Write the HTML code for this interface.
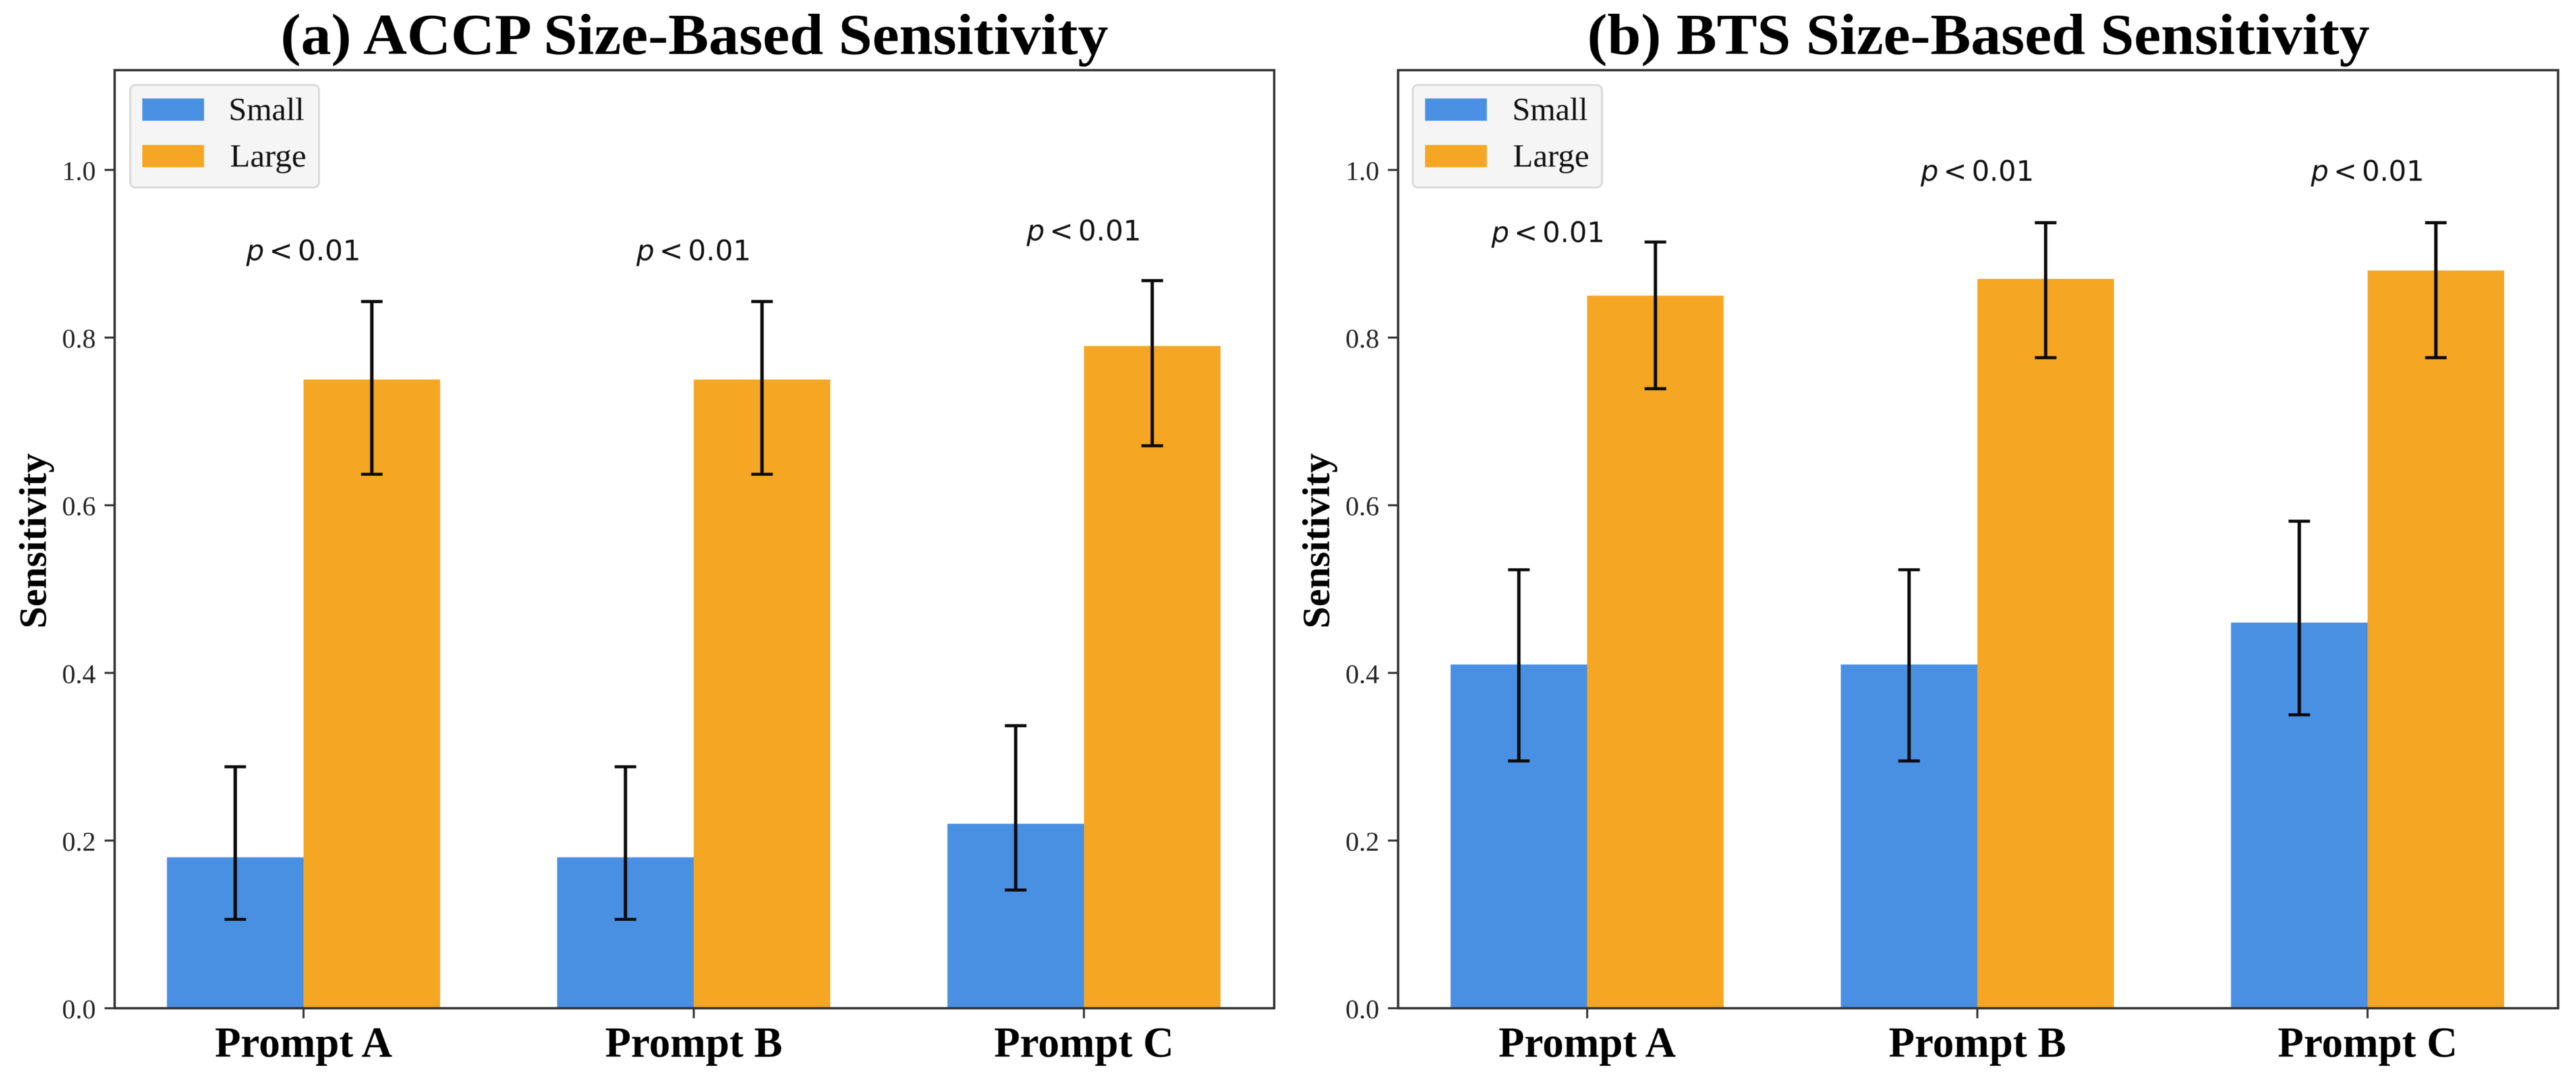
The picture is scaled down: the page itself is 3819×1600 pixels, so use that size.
<!DOCTYPE html>
<html lang="en">
<head>
<meta charset="utf-8">
<title>Size-Based Sensitivity</title>
<style>
  html, body { margin: 0; padding: 0; background: #fff; }
  body { width: 3819px; height: 1600px; overflow: hidden; }
  svg { display: block; filter: blur(0.6px); }
  .serif { font-family: "Liberation Serif", serif; fill: #000; }
  .title { font-size: 86px; font-weight: bold; }
  .ylabel { font-size: 57px; font-weight: bold; }
  .xlabel { font-size: 63px; font-weight: bold; }
  .ytick { font-size: 40px; fill: #222; }
  .legend-text { font-size: 48px; fill: #111; }
  .p-text { font-family: "DejaVu Sans", sans-serif; font-size: 42px; word-spacing: -6px; fill: #111; }
</style>
</head>
<body>
<svg id="fig" xmlns="http://www.w3.org/2000/svg" width="3819" height="1600" viewBox="0 0 3819 1600">
  <rect x="0" y="0" width="3819" height="1600" fill="#ffffff"/>

  <g id="panel-a">
    <text class="serif title" x="416" y="80" textLength="1227" lengthAdjust="spacingAndGlyphs">(a) ACCP Size-Based Sensitivity</text>
    <text class="serif ylabel" transform="translate(68,932) rotate(-90)" x="0" y="0" textLength="260" lengthAdjust="spacingAndGlyphs">Sensitivity</text>
    <g id="marks-a"></g>
    <rect x="170" y="104" width="1719" height="1391" fill="none" stroke="#333" stroke-width="3.5"/>
    <g>
      <rect x="193" y="126" width="280" height="152" rx="8" ry="8" fill="#f5f5f5" stroke="#dadada" stroke-width="3"/>
      <rect x="211" y="146" width="91.5" height="33" fill="#4A90E2"/>
      <text class="serif legend-text" x="339" y="178" textLength="112" lengthAdjust="spacingAndGlyphs">Small</text>
      <rect x="211" y="215" width="91.5" height="33" fill="#F5A623"/>
      <text class="serif legend-text" x="341" y="247" textLength="113" lengthAdjust="spacingAndGlyphs">Large</text>
    </g>
  </g>

  <g id="panel-b">
    <text class="serif title" x="2353" y="80" textLength="1160" lengthAdjust="spacingAndGlyphs">(b) BTS Size-Based Sensitivity</text>
    <text class="serif ylabel" transform="translate(1970.7,932) rotate(-90)" x="0" y="0" textLength="260" lengthAdjust="spacingAndGlyphs">Sensitivity</text>
    <g id="marks-b"></g>
    <rect x="2072.7" y="104" width="1719.8" height="1391" fill="none" stroke="#333" stroke-width="3.5"/>
    <g>
      <rect x="2094.4" y="126" width="280.6" height="152" rx="8" ry="8" fill="#f5f5f5" stroke="#dadada" stroke-width="3"/>
      <rect x="2112.8" y="146" width="91.5" height="33" fill="#4A90E2"/>
      <text class="serif legend-text" x="2242" y="178" textLength="112" lengthAdjust="spacingAndGlyphs">Small</text>
      <rect x="2112.8" y="215" width="91.5" height="33" fill="#F5A623"/>
      <text class="serif legend-text" x="2243" y="247" textLength="113" lengthAdjust="spacingAndGlyphs">Large</text>
    </g>
  </g>
</svg>

<script>
// ---- chart data ----
const categories = ['Prompt A', 'Prompt B', 'Prompt C'];
const yTickValues = [0.0, 0.2, 0.4, 0.6, 0.8, 1.0];
const yTickLabels = ['0.0', '0.2', '0.4', '0.6', '0.8', '1.0'];

const accpSmall = [0.18, 0.18, 0.22];
const accpLarge = [0.75, 0.75, 0.79];
const accpSmallLower = [0.106, 0.106, 0.141];
const accpSmallUpper = [0.288, 0.288, 0.337];
const accpLargeLower = [0.637, 0.637, 0.671];
const accpLargeUpper = [0.843, 0.843, 0.868];
const accpPHeights = [0.892, 0.892, 0.916];
const accpPShift = [0, 0, 0];

const btsSmall = [0.41, 0.41, 0.46];
const btsLarge = [0.85, 0.87, 0.88];
const btsSmallLower = [0.295, 0.295, 0.35];
const btsSmallUpper = [0.523, 0.523, 0.581];
const btsLargeLower = [0.739, 0.776, 0.776];
const btsLargeUpper = [0.914, 0.937, 0.937];
const btsPHeights = [0.914, 0.987, 0.987];
const btsPShift = [-0.1, 0, 0];

const pLabelText = ' < 0.01';
const pLabelSymbol = 'p';

// ---- axis functions ----
const SVG_NS = 'http://www.w3.org/2000/svg';
const BAR_WIDTH = 0.35;
const Y_ZERO_PX = 1495;
const Y_UNIT_PX = 1243;
const CAT_UNIT_PX = 578.5;

function yScale(v) { return Y_ZERO_PX - v * Y_UNIT_PX; }
function xScale(c, originPx) { return originPx + c * CAT_UNIT_PX; }

function make(tag, attrs, parent) {
  const el = document.createElementNS(SVG_NS, tag);
  Object.keys(attrs).forEach(function (k) { el.setAttribute(k, attrs[k]); });
  parent.appendChild(el);
  return el;
}

function drawPanel(target, key, axisLeft, originPx, small, large, smallLo, smallHi, largeLo, largeHi, pHeights, pShift, pWidth) {
  const g = document.getElementById(target);

  // bars
  categories.forEach(function (cat, i) {
    const smallBar = make('rect', {
      x: xScale(i - BAR_WIDTH, originPx), y: yScale(small[i]),
      width: BAR_WIDTH * CAT_UNIT_PX, height: yScale(0) - yScale(small[i]), fill: '#4A90E2'
    }, g);
    
    

    const largeBar = make('rect', {
      x: xScale(i, originPx), y: yScale(large[i]),
      width: BAR_WIDTH * CAT_UNIT_PX, height: yScale(0) - yScale(large[i]), fill: '#F5A623'
    }, g);
    
    
  });

  // error bars
  function errorBar(cx, lo, hi, name) {
    const eg = make('g', { stroke: '#0a0a0a', fill: 'none' }, g);
    
    
    make('line', { x1: cx, x2: cx, y1: yScale(lo), y2: yScale(hi), 'stroke-width': 5 }, eg);
    make('line', { x1: cx - 16, x2: cx + 16, y1: yScale(lo), y2: yScale(lo), 'stroke-width': 4.5 }, eg);
    make('line', { x1: cx - 16, x2: cx + 16, y1: yScale(hi), y2: yScale(hi), 'stroke-width': 4.5 }, eg);
  }
  categories.forEach(function (cat, i) {
    errorBar(xScale(i - BAR_WIDTH / 2, originPx), smallLo[i], smallHi[i], 'error-bar-small-' + key + '-' + i);
    errorBar(xScale(i + BAR_WIDTH / 2, originPx), largeLo[i], largeHi[i], 'error-bar-large-' + key + '-' + i);
  });

  // y ticks
  yTickValues.forEach(function (v, i) {
    const tick = make('line', {
      x1: axisLeft - 15, x2: axisLeft, y1: yScale(v), y2: yScale(v), stroke: '#333', 'stroke-width': 3
    }, g);
    
    

    const label = make('text', {
      x: axisLeft - 28, y: yScale(v) + 15, 'text-anchor': 'end', class: 'serif ytick'
    }, g);
    label.textContent = yTickLabels[i];
    
    
  });

  // x ticks and labels
  categories.forEach(function (cat, i) {
    const tick = make('line', {
      x1: xScale(i, originPx), x2: xScale(i, originPx), y1: Y_ZERO_PX, y2: Y_ZERO_PX + 15, stroke: '#333', 'stroke-width': 3
    }, g);
    
    

    const label = make('text', {
      x: xScale(i, originPx), y: 1567, 'text-anchor': 'middle', class: 'serif xlabel'
    }, g);
    label.textContent = cat;
    
    
  });

  // significance labels
  categories.forEach(function (cat, i) {
    const cx = xScale(i + pShift[i], originPx);
    const t = make('text', {
      x: cx - pWidth / 2, y: yScale(pHeights[i]), class: 'p-text',
      textLength: pWidth, lengthAdjust: 'spacingAndGlyphs'
    }, g);
    
    
    const sym = make('tspan', { 'font-style': 'italic' }, t);
    sym.textContent = pLabelSymbol;
    const rest = make('tspan', {}, t);
    rest.textContent = pLabelText;
  });
}

drawPanel('marks-a', 'accp', 170, 450, accpSmall, accpLarge, accpSmallLower, accpSmallUpper, accpLargeLower, accpLargeUpper, accpPHeights, accpPShift, 170);
drawPanel('marks-b', 'bts', 2072.7, 2353, btsSmall, btsLarge, btsSmallLower, btsSmallUpper, btsLargeLower, btsLargeUpper, btsPHeights, btsPShift, 168);
</script>
</body>
</html>
